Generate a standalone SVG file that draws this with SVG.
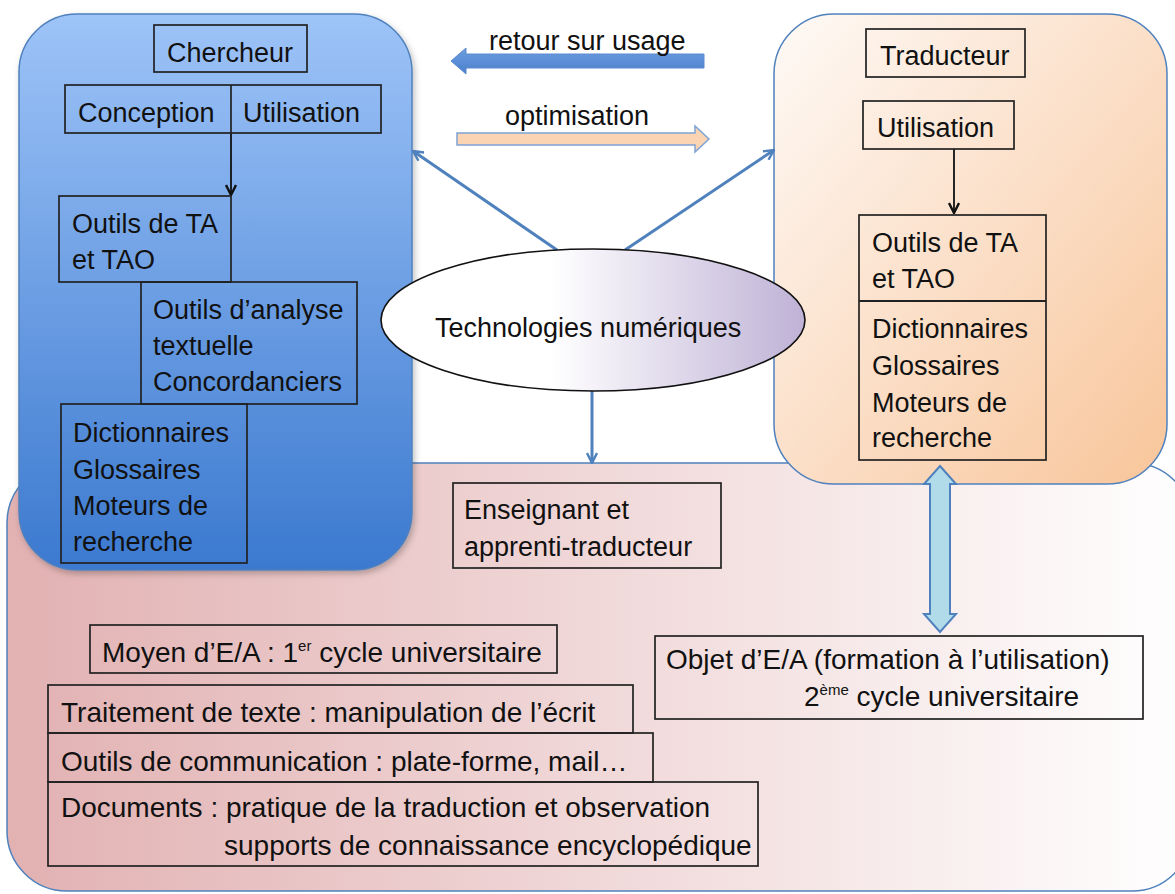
<svg xmlns="http://www.w3.org/2000/svg" width="1175" height="894" viewBox="0 0 1175 894">
  <defs>
    <linearGradient id="gBlue" x1="0" y1="0" x2="0" y2="1">
      <stop offset="0" stop-color="#9ec4f8"/>
      <stop offset="1" stop-color="#3b79cf"/>
    </linearGradient>
    <linearGradient id="gPink" x1="0" y1="0" x2="1" y2="0">
      <stop offset="0" stop-color="#e2b1b2"/>
      <stop offset="1" stop-color="#ffffff"/>
    </linearGradient>
    <linearGradient id="gPeach" x1="0" y1="0" x2="1" y2="1">
      <stop offset="0" stop-color="#fefaf6"/>
      <stop offset="0.2" stop-color="#fdefe4"/>
      <stop offset="1" stop-color="#f8c59a"/>
    </linearGradient>
    <linearGradient id="gEllipse" x1="0" y1="0" x2="1" y2="0">
      <stop offset="0" stop-color="#ffffff"/>
      <stop offset="0.4" stop-color="#ffffff"/>
      <stop offset="1" stop-color="#bfb2d6"/>
    </linearGradient>
    <linearGradient id="gRetour" x1="0" y1="0" x2="0" y2="1">
      <stop offset="0" stop-color="#6c9de0"/>
      <stop offset="1" stop-color="#4a80cc"/>
    </linearGradient>
    <marker id="headBlue" viewBox="0 0 12 12" refX="11" refY="6" markerWidth="12" markerHeight="12" markerUnits="userSpaceOnUse" orient="auto">
      <path d="M1,1 L11,6 L1,11" fill="none" stroke="#4f81bd" stroke-width="2.4"/>
    </marker>
    <marker id="headBlack" viewBox="0 0 12 12" refX="11" refY="6" markerWidth="12" markerHeight="12" markerUnits="userSpaceOnUse" orient="auto">
      <path d="M1,1 L11,6 L1,11" fill="none" stroke="#111" stroke-width="2.4"/>
    </marker>
    <filter id="soft" x="-5%" y="-5%" width="110%" height="110%">
      <feDropShadow dx="2" dy="3" stdDeviation="3" flood-color="#000" flood-opacity="0.25"/>
    </filter>
  </defs>
  <style>
    text { font-family: "Liberation Sans", Arial, sans-serif; font-size: 27px; fill: #111; }
    .big { font-size: 28px; }
    .box { fill: none; stroke: #222; stroke-width: 1.7; }
    .panel { stroke: #4f81bd; stroke-width: 1.5; }
    .link { fill: none; stroke: #4f81bd; stroke-width: 3; }
    .sup { font-size: 15px; }
  </style>

  <!-- teaching area panel (bottom) -->
  <g id="panel-teaching">
    <rect class="panel" x="7" y="463" width="1185" height="428" rx="60" ry="60" fill="url(#gPink)"/>
  </g>

  <!-- researcher panel -->
  <g id="panel-researcher">
    <rect class="panel" x="19" y="14" width="393" height="556" rx="58" ry="58" fill="url(#gBlue)" filter="url(#soft)"/>
  </g>

  <!-- translator panel -->
  <g id="panel-translator">
    <rect class="panel" x="774" y="14" width="393" height="470" rx="60" ry="60" fill="url(#gPeach)"/>
  </g>

  <!-- connectors -->
  <g id="connectors">
    <line class="link" x1="557" y1="250" x2="413" y2="151" marker-end="url(#headBlue)"/>
    <line class="link" x1="625" y1="250" x2="774" y2="150" marker-end="url(#headBlue)"/>
    <line class="link" x1="592" y1="391" x2="592" y2="463" marker-end="url(#headBlue)"/>
    <line x1="231" y1="133" x2="231" y2="195" stroke="#111" stroke-width="1.8" marker-end="url(#headBlack)"/>
    <line x1="954" y1="149" x2="954" y2="213" stroke="#111" stroke-width="1.8" marker-end="url(#headBlack)"/>
    <!-- block arrow: retour sur usage -->
    <path d="M704,54 L466,54 L466,48 L451,61 L466,74 L466,68 L704,68 Z" fill="url(#gRetour)" stroke="#5a8ad0" stroke-width="1"/>
    <!-- block arrow: optimisation -->
    <path d="M457,133 L695,133 L695,126 L709,139 L695,152 L695,145 L457,145 Z" fill="#fbd5b3" stroke="#7ea3d6" stroke-width="1.5"/>
    <!-- double arrow between translator panel and teaching objective -->
    <path d="M940,466 L956,484 L950,484 L950,614 L956,614 L940,632 L924,614 L930,614 L930,484 L924,484 Z" fill="#b2dbe9" stroke="#4f81bd" stroke-width="2"/>
  </g>

  <!-- arrow labels -->
  <g id="label-retour"><text x="489" y="50">retour sur usage</text></g>
  <g id="label-optimisation"><text x="505" y="125">optimisation</text></g>

  <!-- researcher nodes -->
  <g id="node-chercheur">
    <rect class="box" x="154" y="25" width="153" height="47"/>
    <text x="167" y="62">Chercheur</text>
  </g>
  <g id="node-conception-utilisation">
    <rect class="box" x="65" y="85" width="316" height="48"/>
    <line x1="231" y1="85" x2="231" y2="133" stroke="#222" stroke-width="1.7"/>
    <text x="78" y="122">Conception</text>
    <text x="243" y="122">Utilisation</text>
  </g>
  <g id="node-outils-ta-left">
    <rect class="box" x="59" y="196" width="172" height="86"/>
    <text x="72" y="233">Outils de TA</text>
    <text x="72" y="269">et TAO</text>
  </g>
  <g id="node-outils-analyse">
    <rect class="box" x="141" y="282" width="216" height="122"/>
    <text x="153" y="319">Outils d’analyse</text>
    <text x="153" y="355">textuelle</text>
    <text x="153" y="391">Concordanciers</text>
  </g>
  <g id="node-dictionnaires-left">
    <rect class="box" x="61" y="404" width="186" height="159"/>
    <text x="73" y="442">Dictionnaires</text>
    <text x="73" y="479">Glossaires</text>
    <text x="73" y="515">Moteurs de</text>
    <text x="73" y="551">recherche</text>
  </g>

  <!-- translator nodes -->
  <g id="node-traducteur">
    <rect class="box" x="866" y="29" width="159" height="48"/>
    <text x="880" y="65">Traducteur</text>
  </g>
  <g id="node-utilisation-right">
    <rect class="box" x="863" y="101" width="151" height="48"/>
    <text x="877" y="137">Utilisation</text>
  </g>
  <g id="node-outils-right">
    <rect class="box" x="859" y="215" width="187" height="245"/>
    <line x1="859" y1="301" x2="1046" y2="301" stroke="#222" stroke-width="2"/>
    <text x="872" y="252">Outils de TA</text>
    <text x="872" y="288">et TAO</text>
    <text x="872" y="338">Dictionnaires</text>
    <text x="872" y="375">Glossaires</text>
    <text x="872" y="412">Moteurs de</text>
    <text x="872" y="447">recherche</text>
  </g>

  <!-- central node -->
  <g id="node-technologies">
    <ellipse cx="593" cy="320" rx="212" ry="71" fill="url(#gEllipse)" stroke="#111" stroke-width="1.6"/>
    <text x="435" y="337">Technologies numériques</text>
  </g>

  <!-- teaching nodes -->
  <g id="node-enseignant">
    <rect class="box" x="453" y="483" width="268" height="85"/>
    <text x="464" y="519">Enseignant et</text>
    <text x="464" y="556">apprenti-traducteur</text>
  </g>
  <g id="node-moyen">
    <rect class="box" x="90" y="625" width="467" height="48"/>
    <text class="big" x="102" y="662">Moyen d’E/A : 1<tspan class="sup" dy="-11">er</tspan><tspan dy="11"> cycle universitaire</tspan></text>
  </g>
  <g id="node-traitement">
    <rect class="box" x="48" y="685" width="585" height="48"/>
    <text class="big" x="61" y="722">Traitement de texte : manipulation de l’écrit</text>
  </g>
  <g id="node-communication">
    <rect class="box" x="48" y="733" width="605" height="49"/>
    <text class="big" x="61" y="771">Outils de communication : plate-forme, mail…</text>
  </g>
  <g id="node-documents">
    <rect class="box" x="48" y="782" width="710" height="84"/>
    <text class="big" x="61" y="817">Documents : pratique de la traduction et observation</text>
    <text class="big" x="224" y="855">supports de connaissance encyclopédique</text>
  </g>
  <g id="node-objet">
    <rect class="box" x="655" y="636" width="488" height="83"/>
    <text class="big" x="666" y="669">Objet d’E/A (formation à l’utilisation)</text>
    <text class="big" x="804" y="706">2<tspan class="sup" dy="-11">ème</tspan><tspan dy="11"> cycle universitaire</tspan></text>
  </g>
</svg>
